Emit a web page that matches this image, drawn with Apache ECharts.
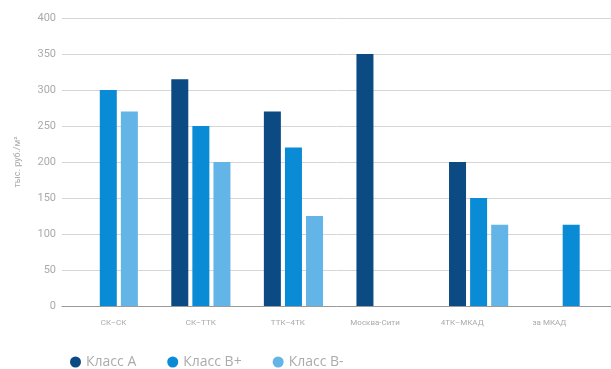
<!DOCTYPE html>
<html>
<head>
<meta charset="utf-8">
<script src="https://cdn.jsdelivr.net/npm/echarts@6/dist/echarts.min.js"></script>
<style>
html,body{margin:0;padding:0;background:#fff;}
#chart{width:611px;height:369px;}
</style>
</head>
<body>
<div id="chart"></div>
<script>
// Rental rates by zone, thousand RUB per m²
const categories = ['СК–СК', 'СК–ТТК', 'ТТК–4ТК', 'Москва-Сити', '4ТК–МКАД', 'за МКАД'];
const seriesNames = ['Класс А', 'Класс В+', 'Класс В-'];
const classA = [null, 315, 270, 350, 200, null];
const classBplus = [300, 250, 220, null, 150, 113];
const classBminus = [270, 200, 125, null, 113, null];
const yTicks = [0, 50, 100, 150, 200, 250, 300, 350, 400];

const colors = ['#0c4a83', '#0a8bd6', '#62b5e6'];
const font = 'Roboto, "DejaVu Sans", sans-serif';

const chart = echarts.init(document.getElementById('chart'));
const values = [classA, classBplus, classBminus];

// Bars sit on a numeric x axis (category index), so the last group can run
// up against the right edge; the zone names are drawn on a separate category axis.
const barSeries = seriesNames.map((name, i) => ({
  name: name,
  type: 'bar',
  xAxisIndex: 0,
  yAxisIndex: 0,
  data: values[i].map((v, k) => [k, v]),
  barWidth: 17,
  barGap: '24%',
  itemStyle: { color: colors[i] }
}));

chart.setOption({
  animation: false,
  textStyle: { fontFamily: font },
  grid: [
    { left: 62, right: 0, top: 18, bottom: 63 },
    { left: 70, width: 523, top: 18, bottom: 63 }
  ],
  legend: {
    data: seriesNames,
    left: 65,
    top: 350,
    icon: 'circle',
    itemWidth: 11,
    itemHeight: 11,
    itemGap: 31,
    textStyle: { color: '#ababab', fontSize: 14, fontFamily: '"Open Sans", Roboto, sans-serif' }
  },
  xAxis: [
    {
      type: 'value',
      gridIndex: 0,
      min: -0.5,
      max: 5.43,
      axisLine: { show: true, onZero: false, lineStyle: { color: '#9a9a9a', width: 1 } },
      axisTick: { show: false },
      axisLabel: { show: false },
      splitLine: { show: false }
    },
    {
      type: 'category',
      gridIndex: 1,
      data: categories,
      axisLine: { show: false },
      axisTick: { show: false },
      axisLabel: { color: '#aaaaaa', fontSize: 8, margin: 13 }
    }
  ],
  yAxis: [
    {
      type: 'value',
      gridIndex: 0,
      min: yTicks[0],
      max: yTicks[yTicks.length - 1],
      interval: yTicks[1] - yTicks[0],
      name: 'тыс. руб./м²',
      nameLocation: 'middle',
      nameGap: 40,
      nameTextStyle: { color: '#aaaaaa', fontSize: 9 },
      axisLine: { show: false },
      axisTick: { show: false },
      axisLabel: { color: '#aaaaaa', fontSize: 11, margin: 6 },
      splitLine: { lineStyle: { color: '#d6d6d6', width: 1 } }
    },
    {
      type: 'value',
      gridIndex: 1,
      min: 0,
      max: 1,
      show: false
    }
  ],
  series: barSeries
});
</script>
</body>
</html>
